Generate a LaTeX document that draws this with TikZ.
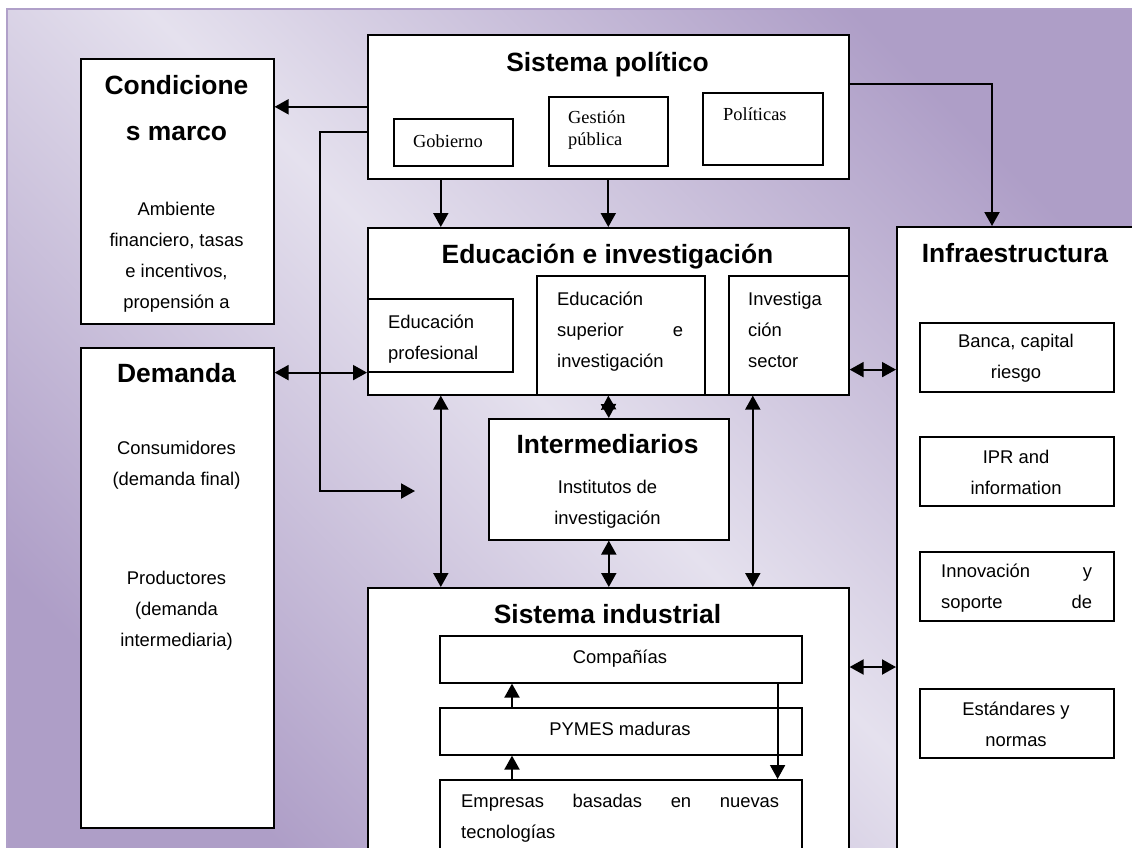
\documentclass[tikz,border=0pt]{standalone}
\usepackage{fontspec}
\setmainfont{Liberation Sans}
\newfontfamily\tnrfont{Liberation Serif}
\usepackage{tikz}
\usetikzlibrary{arrows.meta}

\definecolor{bglight}{RGB}{229,225,238}
\definecolor{bgdark}{RGB}{174,158,199}
\definecolor{bgedge}{RGB}{176,160,201}
\pgfdeclarehorizontalshading{bgband}{100bp}{color(0bp)=(bgdark); color(25bp)=(bgdark); color(50bp)=(bglight); color(75bp)=(bgdark); color(100bp)=(bgdark)}

\newcommand{\titlesize}{\fontsize{26.4}{46}\selectfont\bfseries}
\newcommand{\bodysize}{\fontsize{18.4}{31}\selectfont}
\newcommand{\tnrsize}{\fontsize{18.4}{22}\selectfont\tnrfont}

\tikzset{
	box/.style={draw, line width=1.6pt, fill=white, inner sep=0pt, anchor=north west},
	ttl/.style={font=\titlesize, inner sep=0pt, anchor=base, align=center},
	txt/.style={font=\bodysize, inner sep=0pt, anchor=base, align=center},
	txtl/.style={font=\bodysize, inner sep=0pt, anchor=base west, align=left},
	tnr/.style={font=\tnrsize, inner sep=0pt, anchor=base west, align=left}
}

\begin{document}
\begin{tikzpicture}[x=1pt, y=-1pt, >={Triangle[length=14pt,width=15pt]}]
	\useasboundingbox (0,0) rectangle (1132,847);
	\clip (0,0) rectangle (1132,847);
	\shade[shading=bgband, shading angle=45] (7,9) rectangle (1150,870);
	\draw[bgedge, line width=1.5pt] (7,870) -- (7,9) -- (1150,9);
	%
	%  BOXES
	%
	\node[box, minimum width=193pt, minimum height=265pt] (CM) at (80,58) {};
	\node[box, minimum width=193pt, minimum height=480pt] (DE) at (80,347) {};
	\node[box, minimum width=481pt, minimum height=144pt] (SP) at (367,34) {};
	\node[box, minimum width=119pt, minimum height=47pt] (GO) at (393,118) {};
	\node[box, minimum width=119pt, minimum height=69pt] (GP) at (548,96) {};
	\node[box, minimum width=120pt, minimum height=72pt] (PO) at (702,92) {};
	\node[box, minimum width=481pt, minimum height=167pt] (EI) at (367,227) {};
	\node[box, minimum width=145pt, minimum height=73pt] (EP) at (367,298) {};
	\node[box, minimum width=168pt, minimum height=119pt] (ES) at (536,275) {};
	\node[box, minimum width=120pt, minimum height=119pt] (IS) at (728,275) {};
	\node[box, minimum width=240pt, minimum height=121pt] (IN) at (488,418) {};
	\node[box, minimum width=481pt, minimum height=283pt] (SI) at (367,587) {};
	\node[box, minimum width=362pt, minimum height=47pt] (CO) at (439,635) {};
	\node[box, minimum width=362pt, minimum height=47pt] (PY) at (439,707) {};
	\node[box, minimum width=362pt, minimum height=91pt] (EM) at (439,779) {};
	\node[box, minimum width=254pt, minimum height=644pt] (IF) at (896,226) {};
	\node[box, minimum width=194pt, minimum height=69pt] (BA) at (919,322) {};
	\node[box, minimum width=194pt, minimum height=69pt] (IP) at (919,436) {};
	\node[box, minimum width=194pt, minimum height=69pt] (IV) at (919,551) {};
	\node[box, minimum width=194pt, minimum height=69pt] (EN) at (919,688) {};
	%
	%  TEXTS (multi-line texts sit on their last line)
	%
	\node[ttl] (CMt) at (176.5,140) {Condicione\\s marco};
	\node[txt] (CMb) at (176.5,308) {Ambiente\\financiero, tasas\\e incentivos,\\propensión a};
	\node[ttl] (DEt) at (176.5,382) {Demanda};
	\node[txt] (DEb) at (176.5,485) {Consumidores\\(demanda final)};
	\node[txt] (DEc) at (176.5,646) {Productores\\(demanda\\intermediaria)};
	\node[ttl] (SPt) at (607.5,71) {Sistema político};
	\node[tnr] (GOt) at (413,147) {Gobierno};
	\node[tnr] (GPt) at (568,145) {Gestión\\pública};
	\node[tnr] (POt) at (723,120) {Políticas};
	\node[ttl] (EIt) at (607.5,263) {Educación e investigación};
	\node[txtl] (EPt) at (388,359) {Educación\\profesional};
	\node[txtl] (ESt) at (557,367) {Educación\\\hbox to 126pt{superior\hfill e}\\investigación};
	\node[txtl] (ISt) at (748,367) {Investiga\\ción\\sector};
	\node[ttl] (INt) at (607.5,453) {Intermediarios};
	\node[txt] (INb) at (607.5,524) {Institutos de\\investigación};
	\node[ttl] (SIt) at (607.5,623) {Sistema industrial};
	\node[txt] (COt) at (620,663) {Compañías};
	\node[txt] (PYt) at (620,735) {PYMES maduras};
	\node[txtl] (EMt) at (461,838) {\hbox to 318pt{Empresas\hfill basadas\hfill en\hfill nuevas}\\tecnologías};
	\node[ttl] (IFt) at (1015,262) {Infraestructura};
	\node[txt] (BAt) at (1016,378) {Banca, capital\\riesgo};
	\node[txt] (IPt) at (1016,494) {IPR and\\information};
	\node[txtl] (IVt) at (941,608) {\hbox to 151pt{Innovación\hfill y}\\\hbox to 151pt{soporte\hfill de}};
	\node[txt] (ENt) at (1016,746) {Estándares y\\normas};
	%
	%  ARROWS
	%
	\coordinate (tip) at (415,491);
	\draw[->, line width=2pt] ([yshift=-25pt]SP.west) -- ++(-47,0) |- (tip);
	\draw[->, line width=2pt] ([yshift=23pt]SP.east) -| ([xshift=96pt]IF.north west);
	\path[->, line width=2pt]
	(SP.west) edge (SP.west -| CM.east)
	([xshift=-167.5pt]SP.south) edge ([xshift=-167.5pt]EI.north)
	(SP.south) edge (EI.north)
	([xshift=73pt]PY.north west) edge ([xshift=73pt]CO.south west)
	([xshift=73pt]EM.north west) edge ([xshift=73pt]PY.south west)
	([xshift=-25pt]CO.south east) edge ([xshift=-25pt]EM.north east);
	\path[<->, line width=2pt]
	(EP.south west -| DE.east) edge (EP.south west)
	([yshift=26pt]EI.south east) edge ([yshift=26pt]EI.south east -| IF.west)
	(EI.south) edge (IN.north)
	([xshift=-167.5pt]EI.south) edge ([xshift=-167.5pt]EI.south |- SI.north)
	([xshift=144.5pt]EI.south) edge ([xshift=144.5pt]EI.south |- SI.north)
	(IN.south) edge (IN.south |- SI.north)
	([yshift=-80pt]SI.north east) edge ([yshift=-80pt]SI.north east -| IF.west);
\end{tikzpicture}
\end{document}
